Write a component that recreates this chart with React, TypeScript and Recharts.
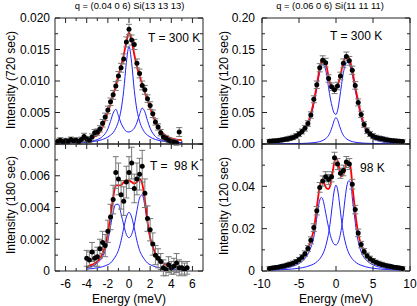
import React from "react";
import { ComposedChart, Line, Scatter, XAxis, YAxis, ErrorBar, ReferenceArea } from "recharts";

const FONT = '"Liberation Sans", Arial, Helvetica, sans-serif';

// ---------- Top-left: q = (0.04 0 6), T = 300 K ----------
const tlPoints: number[][] = [
  [-6.75, 0.0004, 0.0004], [-6.5, 0.0006, 0.0004], [-6.25, 0.0003, 0.0004], [-6, 0.0005, 0.0004],
  [-5.75, 0.0004, 0.0004], [-5.5, 0.0007, 0.0004], [-5.25, 0.0005, 0.0004], [-5, 0.0006, 0.0004],
  [-4.75, 0.0004, 0.0004], [-4.5, 0.0007, 0.0004], [-4.25, 0.0012, 0.0005], [-4, 0.0008, 0.0004],
  [-3.75, 0.0006, 0.0004], [-3.5, 0.0011, 0.0005], [-3.25, 0.0018, 0.0005], [-3, 0.0019, 0.0005],
  [-2.75, 0.0024, 0.0005], [-2.5, 0.0033, 0.0006], [-2.25, 0.0043, 0.0006], [-2, 0.0054, 0.0006],
  [-1.75, 0.0067, 0.0006], [-1.5, 0.0078, 0.0007], [-1.25, 0.0092, 0.0007], [-1, 0.0108, 0.0007],
  [-0.75, 0.0121, 0.0007], [-0.5, 0.0135, 0.0008], [-0.25, 0.0162, 0.0008], [0, 0.0182, 0.0008],
  [0.25, 0.0165, 0.0008], [0.5, 0.0158, 0.0008], [0.75, 0.0128, 0.0007], [1, 0.0112, 0.0007],
  [1.25, 0.0093, 0.0007], [1.5, 0.0086, 0.0007], [1.75, 0.0072, 0.0006], [2, 0.0061, 0.0006],
  [2.25, 0.0048, 0.0006], [2.5, 0.0035, 0.0005], [2.75, 0.0027, 0.0005], [3, 0.0018, 0.0005],
  [3.25, 0.0011, 0.0004], [3.5, 0.0009, 0.0004], [3.75, 0.0006, 0.0004], [4, 0.0004, 0.0004],
  [4.25, 0.0003, 0.0004], [4.5, 0.0002, 0.0004], [4.75, 0.0019, 0.0007],
];
const tlGrid = [-6.75, -6, -5, -4, -3.5, -3, -2.5, -2, -1.75, -1.5, -1.25, -1, -0.75, -0.5, -0.25, 0, 0.25, 0.5, 0.75, 1, 1.25, 1.5, 1.75, 2, 2.5, 3, 3.5, 4, 4.5, 5];
const tlFit = [0.0004, 0.00045, 0.0006, 0.00085, 0.0011, 0.0014, 0.0027, 0.0051, 0.0063, 0.0079, 0.0091, 0.0109, 0.0124, 0.0141, 0.0162, 0.0177, 0.0163, 0.0142, 0.0123, 0.0108, 0.0095, 0.0082, 0.0069, 0.0057, 0.0036, 0.0021, 0.0013, 0.0009, 0.0007, 0.0006];
const tlSide = [0.0001, 0.00012, 0.00019, 0.00032, 0.00046, 0.0007, 0.0012, 0.0024, 0.0036, 0.0049, 0.0055, 0.0045, 0.0033, 0.0025, 0.002, 0.0019, 0.0021, 0.0025, 0.0034, 0.0047, 0.0057, 0.0051, 0.0037, 0.0025, 0.0012, 0.0007, 0.00047, 0.00033, 0.00025, 0.00019];
const tlCentral = [0.0001, 0.00013, 0.00019, 0.00029, 0.00037, 0.0005, 0.00072, 0.0011, 0.0014, 0.0018, 0.0025, 0.0036, 0.0054, 0.0085, 0.0129, 0.0155, 0.0129, 0.0085, 0.0054, 0.0036, 0.0025, 0.0018, 0.0014, 0.0011, 0.00072, 0.0005, 0.00037, 0.00029, 0.00023, 0.00019];
const tlYTicks = [0, 0.0025, 0.005, 0.0075, 0.01, 0.0125, 0.015, 0.0175, 0.02];
const tlYLabels = ["0.000", "", "0.005", "", "0.010", "", "0.015", "", "0.020"];

// ---------- Bottom-left: T = 98 K ----------
const blPoints: number[][] = [
  [-4, 0.0008, 0.0005], [-3.75, 0.0007, 0.0005], [-3.5, 0.0012, 0.0006], [-3.25, 0.0008, 0.0005],
  [-3, 0.0009, 0.0006], [-2.75, 0.0014, 0.0006], [-2.5, 0.0018, 0.0007], [-2.25, 0.0016, 0.0007],
  [-2, 0.0025, 0.0007], [-1.75, 0.0034, 0.0008], [-1.5, 0.0045, 0.0009], [-1.25, 0.0062, 0.001],
  [-1, 0.0058, 0.001], [-0.75, 0.0048, 0.0009], [-0.5, 0.0044, 0.0009], [-0.25, 0.0056, 0.001],
  [0, 0.0062, 0.001], [0.25, 0.0068, 0.001], [0.5, 0.0052, 0.0009], [0.75, 0.0058, 0.001],
  [1, 0.0061, 0.001], [1.25, 0.0066, 0.001], [1.5, 0.0049, 0.0009], [1.75, 0.0033, 0.0008],
  [2, 0.0026, 0.0007], [2.25, 0.0017, 0.0007], [2.5, 0.001, 0.0006], [2.75, 0.0008, 0.0006],
  [3, 0.0006, 0.0005], [3.25, 0.0002, 0.0005], [3.5, 0.0001, 0.0004], [3.75, 0.0004, 0.0005],
  [4, 0.0002, 0.0004], [4.25, 0.0003, 0.0005], [4.5, 0.0005, 0.0006], [4.75, 0.0002, 0.0005],
  [5, 0.0002, 0.0004], [5.25, 0.0001, 0.0004], [5.5, 0.0002, 0.0004],
];
const blGrid = [-4, -3.5, -3, -2.5, -2.25, -2, -1.75, -1.5, -1.25, -1, -0.75, -0.5, -0.25, 0, 0.25, 0.5, 0.75, 1, 1.25, 1.5, 1.75, 2, 2.5, 3, 3.5, 4, 4.5, 5, 5.5];
const blFit = [0.00025, 0.0004, 0.0006, 0.0011, 0.0016, 0.0024, 0.0035, 0.0046, 0.0054, 0.0054, 0.0054, 0.0056, 0.0057, 0.0057, 0.0056, 0.0055, 0.0056, 0.0058, 0.0055, 0.0045, 0.0031, 0.0021, 0.0011, 0.0006, 0.0004, 0.0003, 0.00025, 0.0002, 0.0002];
const blSide = [0.0002, 0.0003, 0.0005, 0.0009, 0.0013, 0.0019, 0.0028, 0.0037, 0.0042, 0.0042, 0.0036, 0.0029, 0.0023, 0.0021, 0.0023, 0.0029, 0.0038, 0.0046, 0.0048, 0.0041, 0.003, 0.0021, 0.0011, 0.0006, 0.0004, 0.0003, 0.00022, 0.00018, 0.00015];
const blCentral = [0.00012, 0.00015, 0.0002, 0.00027, 0.00033, 0.0004, 0.0005, 0.0007, 0.00095, 0.0013, 0.0019, 0.0027, 0.0034, 0.0037, 0.0034, 0.0027, 0.0019, 0.0013, 0.00095, 0.0007, 0.0005, 0.0004, 0.00027, 0.0002, 0.00015, 0.00012, 0.0001, 0.00008, 0.00007];
const blYTicks = [0, 0.001, 0.002, 0.003, 0.004, 0.005, 0.006, 0.007, 0.008];
const blYLabels = ["0", "", "0.002", "", "0.004", "", "0.006", "", ""];

const leftXTicks = [-6, -5, -4, -3, -2, -1, 0, 1, 2, 3, 4, 5, 6];
const leftXLabels = ["-6", "", "-4", "", "-2", "", "0", "", "2", "", "4", "", "6"];

// ---------- Top-right: q = (0.06 0 6), T = 300 K ----------
const trPoints: number[][] = [
  [-9, 0.0042, 0.003], [-8.6, 0.0046, 0.003], [-8.2, 0.0051, 0.003], [-7.8, 0.0056, 0.003],
  [-7.4, 0.0062, 0.003], [-7, 0.0071, 0.003], [-6.6, 0.008, 0.0035], [-6.2, 0.009, 0.0035],
  [-5.8, 0.0105, 0.0035], [-5.4, 0.0128, 0.0035], [-5, 0.0158, 0.004], [-4.6, 0.0198, 0.004],
  [-4.2, 0.025, 0.0045], [-3.8, 0.0325, 0.0045], [-3.4, 0.046, 0.005], [-3, 0.071, 0.0055],
  [-2.6, 0.094, 0.006], [-2.2, 0.121, 0.0065], [-1.8, 0.133, 0.007], [-1.4, 0.129, 0.007],
  [-1, 0.104, 0.006], [-0.6, 0.091, 0.006], [-0.2, 0.086, 0.006], [0.2, 0.092, 0.006],
  [0.6, 0.108, 0.006], [1, 0.128, 0.007], [1.4, 0.139, 0.007], [1.8, 0.132, 0.007],
  [2.2, 0.117, 0.0065], [2.6, 0.093, 0.006], [3, 0.066, 0.0055], [3.4, 0.047, 0.005],
  [3.8, 0.031, 0.0045], [4.2, 0.021, 0.0045], [4.6, 0.016, 0.004], [5, 0.0125, 0.004],
  [5.4, 0.0105, 0.0035], [5.8, 0.0092, 0.0035], [6.2, 0.0082, 0.0035], [6.6, 0.0072, 0.0035],
  [7, 0.0063, 0.003], [7.4, 0.0057, 0.003], [7.8, 0.0051, 0.003], [8.2, 0.0046, 0.003],
  [8.6, 0.0042, 0.003], [9, 0.0038, 0.003],
];
const trGrid = [-9, -8, -7, -6, -5, -4.5, -4, -3.5, -3, -2.5, -2.25, -2, -1.75, -1.5, -1.25, -1, -0.75, -0.5, -0.25, 0, 0.25, 0.5, 0.75, 1, 1.25, 1.5, 1.75, 2, 2.25, 2.5, 3, 3.5, 4, 4.5, 5, 6, 7, 8, 9];
const trFit = [0.004, 0.0055, 0.0072, 0.0098, 0.016, 0.021, 0.029, 0.043, 0.068, 0.1, 0.118, 0.13, 0.135, 0.132, 0.122, 0.106, 0.094, 0.089, 0.087, 0.088, 0.094, 0.104, 0.117, 0.13, 0.138, 0.14, 0.137, 0.127, 0.114, 0.097, 0.068, 0.042, 0.026, 0.017, 0.012, 0.0075, 0.0055, 0.0045, 0.0038];
const trSide = [0.00075, 0.0022, 0.0038, 0.0062, 0.0122, 0.017, 0.0248, 0.0384, 0.0628, 0.094, 0.1113, 0.1224, 0.1262, 0.1215, 0.109, 0.0892, 0.0714, 0.0582, 0.049, 0.047, 0.055, 0.0732, 0.0944, 0.1132, 0.125, 0.1295, 0.1282, 0.1194, 0.1073, 0.091, 0.0628, 0.0374, 0.0218, 0.013, 0.0082, 0.0039, 0.0021, 0.0012, 0.00055];
const trCentral = [0.00025, 0.00032, 0.00042, 0.00056, 0.0008, 0.001, 0.00125, 0.0016, 0.0022, 0.003, 0.0037, 0.0046, 0.0058, 0.0075, 0.01, 0.0138, 0.0196, 0.0278, 0.0372, 0.042, 0.0372, 0.0278, 0.0196, 0.0138, 0.01, 0.0075, 0.0058, 0.0046, 0.0037, 0.003, 0.0022, 0.0016, 0.00125, 0.001, 0.0008, 0.00056, 0.00042, 0.00032, 0.00025];
const trYTicks = [0, 0.025, 0.05, 0.075, 0.1, 0.125, 0.15, 0.175, 0.2];
const trYLabels = ["0.00", "", "0.05", "", "0.10", "", "0.15", "", "0.20"];

// ---------- Bottom-right: 98 K ----------
const brPoints: number[][] = [
  [-9, 0.0012, 0.0008], [-8.6, 0.0014, 0.0008], [-8.2, 0.0016, 0.0008], [-7.8, 0.0018, 0.0008],
  [-7.4, 0.0021, 0.0009], [-7, 0.0024, 0.0009], [-6.6, 0.0028, 0.0009], [-6.2, 0.0032, 0.001],
  [-5.8, 0.0037, 0.001], [-5.4, 0.0044, 0.001], [-5, 0.0053, 0.0011], [-4.6, 0.0065, 0.0012],
  [-4.2, 0.0082, 0.0013], [-3.8, 0.0106, 0.0014], [-3.4, 0.0145, 0.0016], [-3, 0.0205, 0.0018],
  [-2.6, 0.0285, 0.002], [-2.2, 0.0395, 0.0023], [-1.8, 0.0425, 0.0024], [-1.4, 0.0445, 0.0024],
  [-1, 0.0432, 0.0024], [-0.6, 0.0445, 0.0024], [-0.2, 0.0535, 0.0026], [0.2, 0.0505, 0.0026],
  [0.6, 0.0462, 0.0024], [1, 0.0475, 0.0025], [1.4, 0.0515, 0.0026], [1.8, 0.0505, 0.0026],
  [2.2, 0.041, 0.0023], [2.6, 0.029, 0.002], [3, 0.018, 0.0018], [3.4, 0.0125, 0.0015],
  [3.8, 0.0092, 0.0014], [4.2, 0.0072, 0.0013], [4.6, 0.0058, 0.0012], [5, 0.0048, 0.0011],
  [5.4, 0.0041, 0.001], [5.8, 0.0036, 0.001], [6.2, 0.0031, 0.001], [6.6, 0.0027, 0.0009],
  [7, 0.0024, 0.0009], [7.4, 0.0021, 0.0009], [7.8, 0.0018, 0.0008], [8.2, 0.0016, 0.0008],
  [8.6, 0.0014, 0.0008], [9, 0.0012, 0.0008],
];
const brGrid = [-9, -8, -7, -6, -5, -4.5, -4, -3.5, -3, -2.75, -2.5, -2.25, -2, -1.75, -1.5, -1.25, -1, -0.75, -0.5, -0.25, 0, 0.25, 0.5, 0.75, 1, 1.25, 1.5, 1.75, 2, 2.25, 2.5, 2.75, 3, 3.5, 4, 4.5, 5, 6, 7, 8, 9];
const brFit = [0.0013, 0.0017, 0.0024, 0.0034, 0.0053, 0.0069, 0.0093, 0.0133, 0.0198, 0.0256, 0.0326, 0.0387, 0.042, 0.0423, 0.0405, 0.039, 0.0388, 0.0409, 0.0457, 0.0509, 0.0534, 0.0516, 0.0474, 0.0447, 0.0455, 0.0491, 0.0518, 0.0515, 0.0482, 0.039, 0.0311, 0.0234, 0.0178, 0.0113, 0.008, 0.006, 0.0047, 0.0031, 0.0023, 0.0017, 0.0014];
const brSide = [0.0004, 0.0007, 0.0012, 0.002, 0.0035, 0.0048, 0.0068, 0.0102, 0.016, 0.0212, 0.0275, 0.0327, 0.0348, 0.0335, 0.0295, 0.0248, 0.0205, 0.0167, 0.0141, 0.0126, 0.0123, 0.0133, 0.0158, 0.0205, 0.0272, 0.0349, 0.0408, 0.0427, 0.041, 0.033, 0.026, 0.019, 0.014, 0.0082, 0.0055, 0.0039, 0.0029, 0.0017, 0.0011, 0.0007, 0.0005];
const brCentral = [0.0004, 0.0005, 0.0007, 0.0009, 0.0013, 0.0016, 0.002, 0.0026, 0.0033, 0.0039, 0.0046, 0.0055, 0.0067, 0.0083, 0.0105, 0.0137, 0.0178, 0.0237, 0.0311, 0.0378, 0.0406, 0.0378, 0.0311, 0.0237, 0.0178, 0.0137, 0.0105, 0.0083, 0.0067, 0.0055, 0.0046, 0.0039, 0.0033, 0.0026, 0.002, 0.0016, 0.0013, 0.0009, 0.0007, 0.0005, 0.0004];
const brYTicks = [0, 0.01, 0.02, 0.03, 0.04, 0.05, 0.06];
const brYLabels = ["0", "", "0.02", "", "0.04", "", ""];

const rightXTicks = [-10, -5, 0, 5, 10];
const rightXLabels = ["-10", "-5", "0", "5", "10"];

type PanelProps = {
  left: number;
  top: number;
  width: number;
  height: number;
  mTop: number;
  xAxisH: number;
  gap: number;
  xDomain: [number, number];
  yDomain: [number, number];
  xTicks: number[];
  xLabels: string[] | null;
  yTicks: number[];
  yLabels: string[];
  points: number[][];
  grid: number[];
  fit: number[];
  side: number[];
  central: number[];
};

const Y_W = 50;
const M_L = 5;
const M_R = 7;

function Panel(p: PanelProps) {
  const plotLeft = M_L + Y_W;
  const plotW = p.width - M_L - M_R - Y_W;
  const plotTop = p.mTop;
  const plotH = p.height - p.mTop - p.xAxisH;
  const plotBottom = plotTop + plotH;
  const pts = p.points.map(([e, i, err]) => ({ e, i, err }));
  const curve = p.grid.map((e, k) => ({ e, fit: p.fit[k], side: p.side[k], central: p.central[k] }));

  const yTick = (t: any) => {
    const y = t.y;
    const lab = p.yLabels[t.index] ?? "";
    const len = lab ? 5 : 3;
    return (
      <g>
        <line x1={plotLeft} x2={plotLeft + len} y1={y} y2={y} stroke="#222" strokeWidth={1} />
        <line x1={plotLeft + plotW - len} x2={plotLeft + plotW} y1={y} y2={y} stroke="#222" strokeWidth={1} />
        {lab ? (
          <text x={plotLeft - p.gap} y={y + 4.3} textAnchor="end" fontSize={12} fontFamily={FONT} fill="#000">
            {lab}
          </text>
        ) : null}
      </g>
    );
  };

  const xTick = (t: any) => {
    const x = t.x;
    const lab = p.xLabels ? p.xLabels[t.index] ?? "" : "";
    const major = p.xLabels ? lab !== "" : t.index % 2 === 0;
    const len = major || p.xTicks.length < 8 ? 5 : 3;
    return (
      <g>
        <line x1={x} x2={x} y1={plotBottom} y2={plotBottom - len} stroke="#222" strokeWidth={1} />
        <line x1={x} x2={x} y1={plotTop} y2={plotTop + len} stroke="#222" strokeWidth={1} />
        {lab ? (
          <text x={x} y={plotBottom + 17} textAnchor="middle" fontSize={12} fontFamily={FONT} fill="#000">
            {lab}
          </text>
        ) : null}
      </g>
    );
  };

  const dot = (s: any) => <circle cx={s.cx} cy={s.cy} r={2.5} fill="#000" />;

  return (
    <div style={{ position: "absolute", left: p.left, top: p.top, width: p.width, height: p.height }}>
      <ComposedChart
        width={p.width}
        height={p.height}
        margin={{ top: p.mTop, right: M_R, bottom: 0, left: M_L }}
      >
        <XAxis
          type="number"
          dataKey="e"
          domain={p.xDomain}
          allowDataOverflow
          ticks={p.xTicks}
          interval={0}
          tickLine={false}
          axisLine={false}
          tickSize={0}
          height={p.xAxisH}
          tick={xTick}
        />
        <YAxis
          type="number"
          domain={p.yDomain}
          allowDataOverflow
          ticks={p.yTicks}
          interval={0}
          tickLine={false}
          axisLine={false}
          tickSize={0}
          width={Y_W}
          tick={yTick}
        />
        <Line data={curve} dataKey="side" type="monotone" stroke="#2222ff" strokeWidth={1} dot={false} isAnimationActive={false} />
        <Line data={curve} dataKey="central" type="monotone" stroke="#2222ff" strokeWidth={1} dot={false} isAnimationActive={false} />
        <Line data={curve} dataKey="fit" type="monotone" stroke="#ff0000" strokeWidth={1.8} dot={false} isAnimationActive={false} />
        <Scatter data={pts} dataKey="i" isAnimationActive={false} shape={dot}>
          <ErrorBar dataKey="err" direction="y" width={3} stroke="#777" strokeWidth={1} />
        </Scatter>
        <ReferenceArea
          x1={p.xDomain[0]}
          x2={p.xDomain[1]}
          y1={p.yDomain[0]}
          y2={p.yDomain[1]}
          fill="none"
          fillOpacity={0}
          stroke="#222"
          strokeWidth={1}
          ifOverflow="visible"
        />
      </ComposedChart>
    </div>
  );
}

export default function App() {
  const t12 = { fontSize: 12, fontFamily: FONT, fill: "#000" } as const;
  return (
    <div style={{ position: "absolute", left: 0, top: 0, width: 417, height: 306, background: "#fff", overflow: "hidden" }}>
      <Panel left={0} top={0} width={210} height={150} mTop={18} xAxisH={6} gap={5}
        xDomain={[-7, 7]} yDomain={[0, 0.02]} xTicks={leftXTicks} xLabels={null}
        yTicks={tlYTicks} yLabels={tlYLabels} points={tlPoints} grid={tlGrid} fit={tlFit} side={tlSide} central={tlCentral} />
      <Panel left={0} top={140} width={210} height={166} mTop={4} xAxisH={35} gap={5}
        xDomain={[-7, 7]} yDomain={[0, 0.008]} xTicks={leftXTicks} xLabels={leftXLabels}
        yTicks={blYTicks} yLabels={blYLabels} points={blPoints} grid={blGrid} fit={blFit} side={blSide} central={blCentral} />
      <Panel left={207} top={0} width={210} height={150} mTop={18} xAxisH={6} gap={7}
        xDomain={[-10, 10]} yDomain={[0, 0.2]} xTicks={rightXTicks} xLabels={null}
        yTicks={trYTicks} yLabels={trYLabels} points={trPoints} grid={trGrid} fit={trFit} side={trSide} central={trCentral} />
      <Panel left={207} top={140} width={210} height={166} mTop={4} xAxisH={35} gap={7}
        xDomain={[-10, 10]} yDomain={[0, 0.06]} xTicks={rightXTicks} xLabels={rightXLabels}
        yTicks={brYTicks} yLabels={brYLabels} points={brPoints} grid={brGrid} fit={brFit} side={brSide} central={brCentral} />
      <svg width={417} height={306} style={{ position: "absolute", left: 0, top: 0, pointerEvents: "none" }}>
        <text x={129.5} y={9} textAnchor="middle" fontSize={9.4} fontFamily={FONT} fill="#000">q = (0.04 0 6) Si(13 13 13)</text>
        <text x={330} y={9} textAnchor="middle" fontSize={9.4} fontFamily={FONT} fill="#000">q = (0.06 0 6) Si(11 11 11)</text>
        <text transform="translate(14.5,80) rotate(-90)" textAnchor="middle" {...t12}>Intensity (720 sec)</text>
        <text transform="translate(14.5,205) rotate(-90)" textAnchor="middle" {...t12}>Intensity (180 sec)</text>
        <text transform="translate(227.5,80) rotate(-90)" textAnchor="middle" {...t12}>Intensity (120 sec)</text>
        <text transform="translate(227.5,206) rotate(-90)" textAnchor="middle" {...t12}>Intensity (120 sec)</text>
        <text x={129} y={302.5} textAnchor="middle" {...t12}>Energy (meV)</text>
        <text x={336} y={302.5} textAnchor="middle" {...t12}>Energy (meV)</text>
        <text x={148} y={42} {...t12}>T = 300 K</text>
        <text x={150} y={170} style={{ whiteSpace: "pre" }} {...t12}>T =  98 K</text>
        <text x={330} y={40} {...t12}>T = 300 K</text>
        <text x={360} y={172} {...t12}>98 K</text>
      </svg>
    </div>
  );
}
